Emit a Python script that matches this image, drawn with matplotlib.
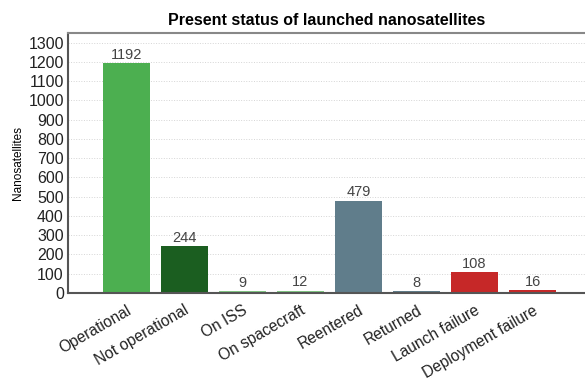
import matplotlib
matplotlib.use('Agg')
import matplotlib.pyplot as plt

plt.rcParams['font.family'] = ['Liberation Sans', 'DejaVu Sans']

# Estado actual de los nanosatélites lanzados
estados = ['Operational', 'Not operational', 'On ISS', 'On spacecraft',
           'Reentered', 'Returned', 'Launch failure', 'Deployment failure']
cantidades = [1192, 244, 9, 12, 479, 8, 108, 16]
colores = ['#4caf50', '#1b5e20', '#81c784', '#81c784',
           '#607d8b', '#607d8b', '#c62828', '#c62828']
marcas_y = list(range(0, 1301, 100))

fig = plt.figure(figsize=(5.85, 3.8), dpi=100)
ax = fig.add_axes([0.1162, 0.229, 0.8838, 0.684])

x = list(range(len(estados)))
barras = ax.bar(x, cantidades, width=0.81, color=colores, zorder=2)

# Etiquetas con el valor encima de cada barra
for rect, valor in zip(barras, cantidades):
    ax.annotate(str(valor), (rect.get_x() + rect.get_width() / 2, rect.get_height()),
                xytext=(0, 1), textcoords='offset points',
                ha='center', va='bottom', fontsize=10.5, color='#444444')

ax.set_xlim(-1, 7.9)
ax.set_ylim(0, 1350)
ax.set_yticks(marcas_y)
ax.tick_params(axis='y', length=0, labelsize=11.5, pad=3, labelcolor='#222222')
ax.set_xticks(x)
ax.set_xticklabels(estados, rotation=30, ha='right', rotation_mode='anchor',
                   fontsize=11.2, color='#222222')
ax.tick_params(axis='x', length=0, pad=7)

ax.grid(axis='y', linestyle=':', color='#d5d5d5', linewidth=0.7, zorder=0)
ax.spines['right'].set_visible(False)
ax.spines['top'].set_color('#888888')
ax.spines['top'].set_linewidth(1.5)
ax.spines['left'].set_color('#555555')
ax.spines['left'].set_linewidth(1.5)
ax.spines['bottom'].set_color('#555555')
ax.spines['bottom'].set_linewidth(1.5)

ax.set_ylabel('Nanosatellites', fontsize=8.5, labelpad=3)
ax.set_title('Present status of launched nanosatellites', fontsize=11.5,
             fontweight='bold', pad=6)

fig.savefig('out.png', dpi=100)
